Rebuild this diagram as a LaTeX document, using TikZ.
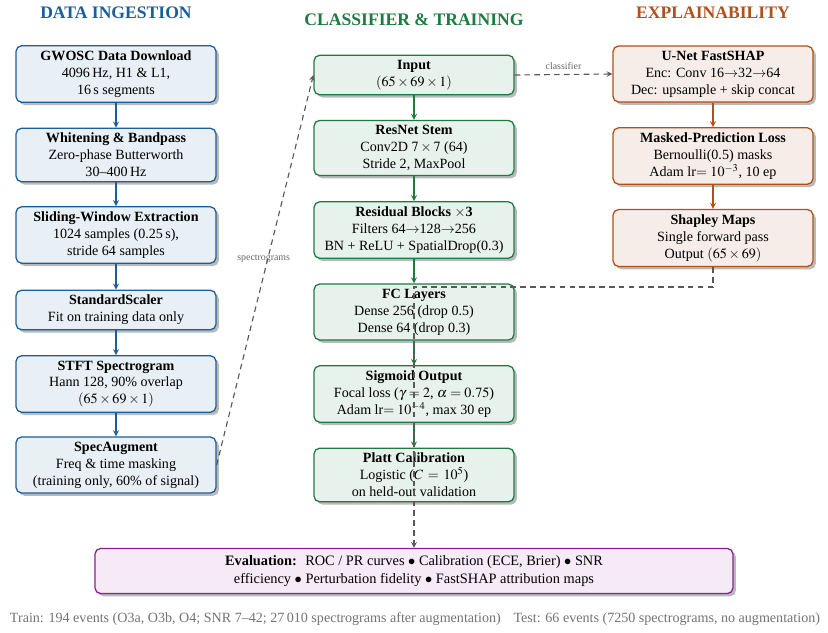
\documentclass[tikz,border=0pt]{standalone}
\usepackage{mathptmx}
\usepackage[no-math]{fontspec}
\setmainfont{Liberation Serif}
\usepackage{amsmath}
\usetikzlibrary{calc,positioning,arrows,shadows}

\definecolor{ingblue}{HTML}{1B5E99}
\definecolor{ingfill}{HTML}{E8F0F5}
\definecolor{clsgreen}{HTML}{1E7A40}
\definecolor{clsfill}{HTML}{E8F2EC}
\definecolor{xaiorange}{HTML}{B0501A}
\definecolor{xaifill}{HTML}{F6EDE8}
\definecolor{evpurple}{HTML}{8A2090}
\definecolor{evfill}{HTML}{F5EAF5}

\begin{document}
\begin{tikzpicture}[x=0.71pt,y=-0.71pt,
  box/.style={draw,rounded corners=4pt,line width=0.9pt,align=center,minimum width=142pt,inner sep=3.5pt,font=\fontsize{10}{12}\selectfont,drop shadow={shadow xshift=2pt,shadow yshift=-2pt,opacity=0.45,fill=black!60}},
  ing/.style={box,draw=ingblue,fill=ingfill},
  cls/.style={box,draw=clsgreen,fill=clsfill},
  xai/.style={box,draw=xaiorange,fill=xaifill},
  title/.style={font=\fontsize{12.5}{14}\selectfont\bfseries},
  flow/.style={->,>=stealth,line width=0.9pt},
  link/.style={->,>=stealth,draw=black!65,line width=0.8pt,dash pattern=on 4pt off 3pt},
  tag/.style={font=\fontsize{7}{8}\selectfont,text=black!60},
  note/.style={font=\fontsize{10}{12}\selectfont,text=black!55}]
  \useasboundingbox (0,0) rectangle (828,632);

  % column titles
  \node[title,text=ingblue] (ttlingest) at (116,13) {DATA INGESTION};
  \node[title,text=clsgreen] (ttlclass) at (414,20) {CLASSIFIER \& TRAINING};
  \node[title,text=xaiorange] (ttlxai) at (713,13) {EXPLAINABILITY};

  % data ingestion
  \node[ing] (gwosc) at (116,74) {\textbf{GWOSC Data Download}\\4096\,Hz, H1 \& L1,\\16\,s segments};
  \node[ing] (whiten) at (116,155) {\textbf{Whitening \& Bandpass}\\Zero-phase Butterworth\\30--400\,Hz};
  \node[ing] (window) at (116,235) {\textbf{Sliding-Window Extraction}\\1024 samples (0.25\,s),\\stride 64 samples};
  \node[ing] (scaler) at (116,310) {\textbf{StandardScaler}\\Fit on training data only};
  \node[ing] (stft) at (116,384) {\textbf{STFT Spectrogram}\\Hann 128, 90\% overlap\\$(65\times 69\times 1)$};
  \node[ing] (specaug) at (116,465) {\textbf{SpecAugment}\\Freq \& time masking\\(training only, 60\% of signal)};

  % classifier and training
  \node[cls] (input) at (414,75) {\textbf{Input}\\$(65\times 69\times 1)$};
  \node[cls] (stem) at (414,148) {\textbf{ResNet Stem}\\Conv2D $7\times 7$ (64)\\Stride 2, MaxPool};
  \node[cls] (resblk) at (414,230) {\textbf{Residual Blocks $\times$3}\\Filters 64$\rightarrow$128$\rightarrow$256\\BN + ReLU + SpatialDrop(0.3)};
  \node[cls] (fc) at (414,312) {\textbf{FC Layers}\\Dense 256 (drop 0.5)\\Dense 64 (drop 0.3)};
  \node[cls] (sigm) at (414,394) {\textbf{Sigmoid Output}\\Focal loss ($\gamma=2$, $\alpha=0.75$)\\Adam lr$=10^{-4}$, max 30 ep};
  \node[cls] (platt) at (414,475) {\textbf{Platt Calibration}\\Logistic ($C\,=\,10^{5}$)\\on held-out validation};

  % explainability
  \node[xai] (unet) at (713,74) {\textbf{U-Net FastSHAP}\\Enc: Conv 16$\rightarrow$32$\rightarrow$64\\Dec: upsample + skip concat};
  \node[xai] (mask) at (713,156) {\textbf{Masked-Prediction Loss}\\Bernoulli(0.5) masks\\Adam lr$=$ $10^{-3}$, 10 ep};
  \node[xai] (shapley) at (713,238) {\textbf{Shapley Maps}\\Single forward pass\\Output $(65\times 69)$};

  % evaluation
  \node[box,draw=evpurple,fill=evfill,minimum width=453pt,minimum height=32pt,font=\fontsize{10.2}{13}\selectfont] (eval) at (414,571) {\textbf{Evaluation:}~ ROC / PR curves $\bullet$ Calibration (ECE, Brier) $\bullet$ SNR\\efficiency $\bullet$ Perturbation fidelity $\bullet$ FastSHAP attribution maps};

  \node[note,anchor=west] (train) at (5,619) {Train: 194 events (O3a, O3b, O4; SNR 7--42; 27\,010 spectrograms after augmentation)};
  \node[note,anchor=east] (test) at (825,619) {Test: 66 events (7250 spectrograms, no augmentation)};

  \draw[flow,ingblue] (gwosc) -- (whiten);
  \draw[flow,ingblue] (whiten) -- (window);
  \draw[flow,ingblue] (window) -- (scaler);
  \draw[flow,ingblue] (scaler) -- (stft);
  \draw[flow,ingblue] (stft) -- (specaug);

  \draw[flow,clsgreen] (input) -- (stem);
  \draw[flow,clsgreen] (stem) -- (resblk);
  \draw[flow,clsgreen] (resblk) -- (fc);
  \draw[flow,clsgreen] (fc) -- (sigm);
  \draw[flow,clsgreen] (sigm) -- (platt);

  \draw[flow,xaiorange] (unet) -- (mask);
  \draw[flow,xaiorange] (mask) -- (shapley);

  \draw[link] (specaug.east) -- node[tag,pos=0.53,xshift=-3pt] {spectrograms} (input.west);
  \draw[link] (input.east) -- node[tag,above] {classifier} (unet.west);
  \coordinate (bend) at (414,287);
  \draw[link] (shapley.south) |- (bend) -- (eval.north);
\end{tikzpicture}
\end{document}
